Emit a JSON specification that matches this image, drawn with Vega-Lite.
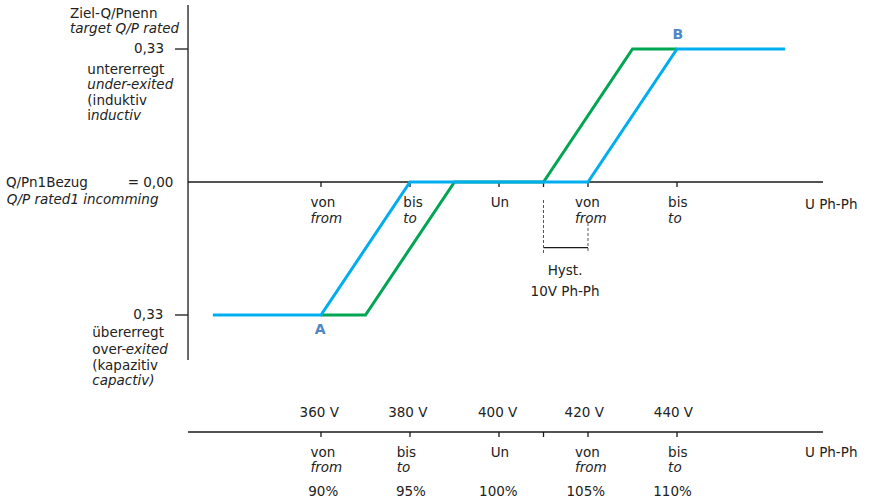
{
  "$schema": "https://vega.github.io/schema/vega-lite/v6.json",
  "width": 873,
  "height": 502,
  "padding": 0,
  "autosize": {"type": "fit", "contains": "padding"},
  "config": {"view": {"stroke": null}, "text": {"font": "DejaVu Sans", "fontSize": 13.5, "color": "#222222"}},
  "datasets": {
    "curves": [
      {"series": "green", "u": 360, "q": -0.33},
      {"series": "green", "u": 370, "q": -0.33},
      {"series": "green", "u": 390, "q": 0},
      {"series": "green", "u": 410, "q": 0},
      {"series": "green", "u": 430, "q": 0.33},
      {"series": "green", "u": 440, "q": 0.33},
      {"series": "blue", "u": 335.7, "q": -0.33},
      {"series": "blue", "u": 360, "q": -0.33},
      {"series": "blue", "u": 380, "q": 0},
      {"series": "blue", "u": 420, "q": 0},
      {"series": "blue", "u": 440, "q": 0.33},
      {"series": "blue", "u": 464.3, "q": 0.33}
    ],
    "solidRules": [
      {"u": 330.12, "q": 0.4392, "u2": 330.12, "q2": -0.4417},
      {"u": 330.12, "q": 0, "u2": 472.8, "q2": 0},
      {"u": 330.12, "q": -0.6203, "u2": 472.8, "q2": -0.6203},
      {"u": 327.2, "q": 0.33, "u2": 330.12, "q2": 0.33},
      {"u": 327.2, "q": -0.33, "u2": 330.12, "q2": -0.33},
      {"u": 360, "q": 0, "u2": 360, "q2": -0.0124},
      {"u": 380, "q": 0, "u2": 380, "q2": -0.0124},
      {"u": 400, "q": 0, "u2": 400, "q2": -0.0124},
      {"u": 410, "q": 0, "u2": 410, "q2": -0.0124},
      {"u": 420, "q": 0, "u2": 420, "q2": -0.0124},
      {"u": 440, "q": 0, "u2": 440, "q2": -0.0124},
      {"u": 360, "q": -0.6203, "u2": 360, "q2": -0.6327},
      {"u": 380, "q": -0.6203, "u2": 380, "q2": -0.6327},
      {"u": 400, "q": -0.6203, "u2": 400, "q2": -0.6327},
      {"u": 410, "q": -0.6203, "u2": 410, "q2": -0.6327},
      {"u": 420, "q": -0.6203, "u2": 420, "q2": -0.6327},
      {"u": 440, "q": -0.6203, "u2": 440, "q2": -0.6327},
      {"u": 410, "q": -0.163, "u2": 420, "q2": -0.163}
    ],
    "dashedRules": [
      {"u": 410, "q": -0.0447, "u2": 410, "q2": -0.176},
      {"u": 420, "q": -0.1017, "u2": 420, "q2": -0.176}
    ],
    "leftNormal": [
      {"label": "Ziel-Q/Pnenn", "u": 303.6, "q": 0.4168},
      {"label": "untererregt", "u": 307.5, "q": 0.2791},
      {"label": "(induktiv", "u": 307.5, "q": 0.2022},
      {"label": "i", "u": 307.5, "q": 0.1638},
      {"label": "Q/Pn1Bezug", "u": 289.2, "q": -0.0025},
      {"label": "übererregt", "u": 308.6, "q": -0.3755},
      {"label": "over-", "u": 308.6, "q": -0.4168},
      {"label": "(kapazitiv", "u": 308.6, "q": -0.4565},
      {"label": "von", "u": 357.65, "q": -0.0529},
      {"label": "bis", "u": 378.5, "q": -0.0529},
      {"label": "von", "u": 417.08, "q": -0.0529},
      {"label": "bis", "u": 438.0, "q": -0.0529},
      {"label": "U Ph-Ph", "u": 468.76, "q": -0.0571},
      {"label": "von", "u": 357.65, "q": -0.673},
      {"label": "bis", "u": 377.0, "q": -0.673},
      {"label": "von", "u": 417.08, "q": -0.673},
      {"label": "bis", "u": 438.0, "q": -0.673},
      {"label": "U Ph-Ph", "u": 468.76, "q": -0.673}
    ],
    "leftItalic": [
      {"label": "target Q/P rated", "u": 303.6, "q": 0.3796},
      {"label": "under-exited", "u": 307.5, "q": 0.2407},
      {"label": "nductiv", "u": 308.3, "q": 0.1638},
      {"label": "Q/P rated1 incomming", "u": 289.4, "q": -0.0447},
      {"label": "exited", "u": 316.1, "q": -0.4168},
      {"label": "capactiv)", "u": 308.6, "q": -0.493},
      {"label": "from", "u": 357.65, "q": -0.0926},
      {"label": "to", "u": 378.5, "q": -0.0926},
      {"label": "from", "u": 417.08, "q": -0.0926},
      {"label": "to", "u": 438.0, "q": -0.0926},
      {"label": "from", "u": 357.65, "q": -0.7104},
      {"label": "to", "u": 377.0, "q": -0.7104},
      {"label": "from", "u": 417.08, "q": -0.7104},
      {"label": "to", "u": 438.0, "q": -0.7104}
    ],
    "centerNormal": [
      {"label": "Un", "u": 400.2, "q": -0.0529},
      {"label": "Un", "u": 400.2, "q": -0.673},
      {"label": "Hyst.", "u": 414.84, "q": -0.22},
      {"label": "10V Ph-Ph", "u": 414.84, "q": -0.272},
      {"label": "360 V", "u": 359.6, "q": -0.5724},
      {"label": "380 V", "u": 379.5, "q": -0.5724},
      {"label": "400 V", "u": 399.7, "q": -0.5724},
      {"label": "420 V", "u": 419.15, "q": -0.5724},
      {"label": "440 V", "u": 439.2, "q": -0.5724},
      {"label": "90%", "u": 360.5, "q": -0.7684},
      {"label": "95%", "u": 380.2, "q": -0.7684},
      {"label": "100%", "u": 399.85, "q": -0.7684},
      {"label": "105%", "u": 419.5, "q": -0.7684},
      {"label": "110%", "u": 439.0, "q": -0.7684}
    ],
    "rightNormal": [
      {"label": "0,33", "u": 324.73, "q": 0.33},
      {"label": "= 0,00", "u": 326.82, "q": -0.0025},
      {"label": "0,33", "u": 324.57, "q": -0.33}
    ],
    "points": [
      {"label": "A", "u": 359.8, "q": -0.367},
      {"label": "B", "u": 440.2, "q": 0.3647}
    ]
  },
  "encoding": {
    "x": {"field": "u", "type": "quantitative", "axis": null, "scale": {"domain": [287.87, 484.04], "nice": false, "zero": false}},
    "y": {"field": "q", "type": "quantitative", "axis": null, "scale": {"domain": [-0.794, 0.4516], "nice": false, "zero": false}}
  },
  "layer": [
    {
      "data": {"name": "solidRules"},
      "mark": {"type": "rule", "color": "#1a1a1a", "strokeWidth": 1.3},
      "encoding": {"x2": {"field": "u2"}, "y2": {"field": "q2"}}
    },
    {
      "data": {"name": "dashedRules"},
      "mark": {"type": "rule", "color": "#555555", "strokeWidth": 1, "strokeDash": [3, 2]},
      "encoding": {"x2": {"field": "u2"}, "y2": {"field": "q2"}}
    },
    {
      "data": {"name": "curves"},
      "transform": [{"filter": "datum.series === 'green'"}],
      "mark": {"type": "line", "color": "#00A651", "strokeWidth": 3},
      "encoding": {}
    },
    {
      "data": {"name": "curves"},
      "transform": [{"filter": "datum.series === 'blue'"}],
      "mark": {"type": "line", "color": "#00AEEF", "strokeWidth": 3},
      "encoding": {}
    },
    {
      "data": {"name": "leftNormal"},
      "mark": {"type": "text", "align": "left", "baseline": "middle"},
      "encoding": {"text": {"field": "label"}}
    },
    {
      "data": {"name": "leftItalic"},
      "mark": {"type": "text", "align": "left", "baseline": "middle", "fontStyle": "italic"},
      "encoding": {"text": {"field": "label"}}
    },
    {
      "data": {"name": "centerNormal"},
      "mark": {"type": "text", "align": "center", "baseline": "middle"},
      "encoding": {"text": {"field": "label"}}
    },
    {
      "data": {"name": "rightNormal"},
      "mark": {"type": "text", "align": "right", "baseline": "middle"},
      "encoding": {"text": {"field": "label"}}
    },
    {
      "data": {"name": "points"},
      "mark": {"type": "text", "align": "center", "baseline": "middle", "fontWeight": "bold", "fontSize": 14, "color": "#4F86C6"},
      "encoding": {"text": {"field": "label"}}
    }
  ]
}
